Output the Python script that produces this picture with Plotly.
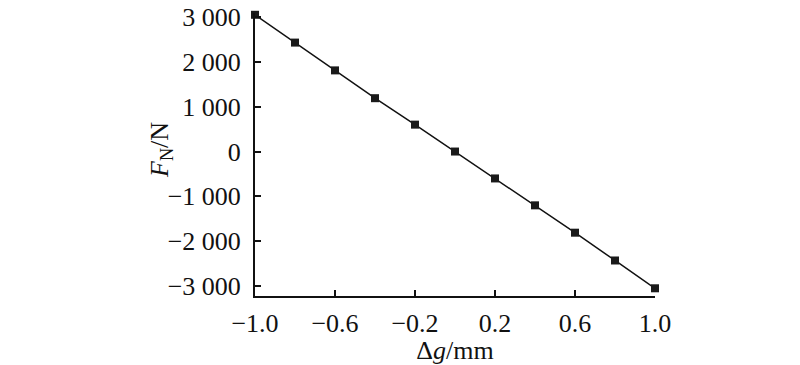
import plotly.graph_objects as go

dg = [-1.0, -0.8, -0.6, -0.4, -0.2, 0.0, 0.2, 0.4, 0.6, 0.8, 1.0]
fn = [3050, 2430, 1810, 1190, 600, 0, -600, -1200, -1810, -2430, -3050]

x_tickvals = [-1.0, -0.6, -0.2, 0.2, 0.6, 1.0]
x_ticktext = ["\u22121.0", "\u22120.6", "\u22120.2", "0.2", "0.6", "1.0"]
y_tickvals = [3000, 2000, 1000, 0, -1000, -2000, -3000]
y_ticktext = ["3 000", "2 000", "1 000", "0", "\u22121 000", "\u22122 000", "\u22123 000"]

FONT = "Liberation Serif"

fig = go.Figure()
fig.add_trace(go.Scatter(
    x=dg, y=fn, mode="lines+markers",
    line=dict(color="#111111", width=1.5),
    marker=dict(symbol="square", size=8, color="#1a1a1a"),
    cliponaxis=False,
))

fig.update_layout(
    width=800, height=365,
    margin=dict(l=255, r=145, t=13, b=69, autoexpand=False),
    paper_bgcolor="white", plot_bgcolor="white",
    showlegend=False,
    font=dict(family=FONT, size=26, color="#111111"),
)
fig.update_xaxes(
    range=[-1.0, 1.0], tickvals=x_tickvals, ticktext=x_ticktext,
    ticks="inside", ticklen=6, tickwidth=1.5, tickcolor="#111111",
    showline=True, linecolor="#111111", linewidth=2, showgrid=False, zeroline=False,
    tickfont=dict(family=FONT, size=26),
    ticklabelstandoff=3, automargin=False, ticklabeloverflow="allow",
    title=dict(text="\u0394<i>g</i>/mm", font=dict(family=FONT, size=26), standoff=2),
)
fig.update_yaxes(
    range=[-3222, 3090], tickvals=y_tickvals, ticktext=y_ticktext,
    ticks="inside", ticklen=6, tickwidth=1.5, tickcolor="#111111",
    showline=True, linecolor="#111111", linewidth=2, showgrid=False, zeroline=False,
    tickfont=dict(family=FONT, size=26),
    ticklabelstandoff=7, automargin=False, ticklabeloverflow="allow",
)
fig.add_annotation(
    text="<i>F</i><sub>N</sub>/N", textangle=-90,
    xref="paper", yref="paper", x=-0.235, y=0.516,
    xanchor="center", yanchor="middle", showarrow=False,
    font=dict(family=FONT, size=26, color="#111111"),
)

# remove the default 8px body margin so the 800x365 figure fills the window exactly
fig.write_html("out.html", config={"displayModeBar": False},
               post_script="document.body.style.margin='0';")
